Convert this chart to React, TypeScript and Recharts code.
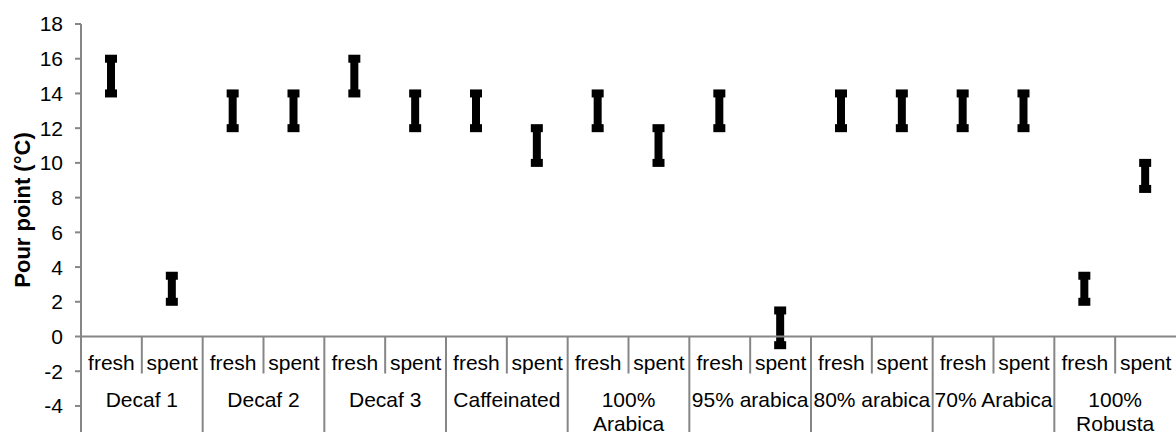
import React from 'react';
import { ComposedChart, Bar, XAxis, YAxis, ReferenceLine } from 'recharts';

const groups = [
  'Decaf 1',
  'Decaf 2',
  'Decaf 3',
  'Caffeinated',
  '100% Arabica',
  '95% arabica',
  '80% arabica',
  '70% Arabica',
  '100% Robusta',
];
const conditions = ['fresh', 'spent'];

// low / high pour point per group and condition (fresh, spent, fresh, spent, ...)
const lowValues = [14, 2, 12, 12, 14, 12, 12, 10, 12, 10, 12, -0.5, 12, 12, 12, 12, 2, 8.5];
const highValues = [16, 3.5, 14, 14, 16, 14, 14, 12, 14, 12, 14, 1.5, 14, 14, 14, 14, 3.5, 10];

const yTicks = [-4, -2, 0, 2, 4, 6, 8, 10, 12, 14, 16, 18];
const yDomain: [number, number] = [-5.5, 18];

const FONT = '"Liberation Sans", Arial, sans-serif';
const FONT_SIZE = 21;
const AXIS_GREY = '#868686';

const data = groups.flatMap((g, gi) =>
  conditions.map((c, ci) => {
    const i = gi * conditions.length + ci;
    return { cat: `${g}|${c}`, group: g, cond: c, range: [lowValues[i], highValues[i]] };
  })
);

let measureCtx: CanvasRenderingContext2D | null = null;
const textWidth = (s: string) => {
  if (!measureCtx) measureCtx = document.createElement('canvas').getContext('2d');
  if (!measureCtx) return s.length * FONT_SIZE * 0.55;
  measureCtx.font = `${FONT_SIZE}px ${FONT}`;
  return measureCtx.measureText(s).width;
};

// word wrap like the spreadsheet does for long group names
const wrap = (label: string, maxWidth: number) => {
  const lines: string[] = [];
  let cur = '';
  label.split(' ').forEach((w) => {
    const next = cur ? `${cur} ${w}` : w;
    if (cur && textWidth(next) > maxWidth) {
      lines.push(cur);
      cur = w;
    } else {
      cur = next;
    }
  });
  if (cur) lines.push(cur);
  return lines;
};

const HighLowMark = (props: any) => {
  const { x, y, width, height } = props;
  const top = height < 0 ? y + height : y;
  const h = Math.abs(height);
  const cx = x + width / 2;
  return (
    <g fill="#000">
      <rect x={cx - 4} y={top} width={8} height={h} />
      <rect x={x} y={top - 4} width={width} height={8} />
      <rect x={x} y={top + h - 4} width={width} height={8} />
    </g>
  );
};

// draws the two-level category axis hanging under the zero line
const CategoryAxis = (props: any) => {
  const { viewBox } = props;
  if (!viewBox) return null;
  const { x, y, width } = viewBox;
  const slot = width / data.length;
  const groupWidth = slot * conditions.length;
  return (
    <g>
      {data.map((d, i) => (
        <text
          key={d.cat}
          x={x + slot * i + slot / 2}
          y={y + 33}
          textAnchor="middle"
          fontSize={FONT_SIZE}
          fontFamily={FONT}
          fill="#000"
        >
          {d.cond}
        </text>
      ))}
      {groups.map((g, gi) => {
        const gx = x + gi * groupWidth;
        const lines = wrap(g, groupWidth - 2);
        return (
          <g key={g}>
            <line x1={gx + slot} x2={gx + slot} y1={y} y2={y + 37} stroke={AXIS_GREY} strokeWidth={2} />
            {gi > 0 && (
              <line x1={gx} x2={gx} y1={y} y2={y + 200} stroke={AXIS_GREY} strokeWidth={2} />
            )}
            <text
              x={gx + groupWidth / 2}
              y={y + 70}
              textAnchor="middle"
              fontSize={FONT_SIZE}
              fontFamily={FONT}
              fill="#000"
            >
              {lines.map((l, li) => (
                <tspan key={li} x={gx + groupWidth / 2} dy={li === 0 ? 0 : 24}>
                  {l}
                </tspan>
              ))}
            </text>
          </g>
        );
      })}
    </g>
  );
};

const YLabel = (props: any) => {
  const { viewBox } = props;
  const cx = 22;
  const cy = viewBox.y + viewBox.height / 2 - 18;
  return (
    <text
      x={cx}
      y={cy}
      transform={`rotate(-90, ${cx}, ${cy})`}
      textAnchor="middle"
      dominantBaseline="central"
      fontSize={22}
      fontWeight="bold"
      fontFamily={FONT}
      fill="#000"
    >
      Pour point (°C)
    </text>
  );
};

export default function App() {
  return (
    <div style={{ position: 'absolute', left: 0, top: 0, background: '#fff' }}>
      <ComposedChart
        width={1176}
        height={432}
        data={data}
        margin={{ top: 24, right: 0, bottom: 0, left: 0 }}
        style={{ fontFamily: FONT }}
      >
        <XAxis dataKey="cat" type="category" hide />
        <YAxis
          type="number"
          domain={yDomain}
          ticks={yTicks}
          interval={0}
          allowDataOverflow
          width={81}
          tickSize={6}
          tickMargin={12}
          axisLine={{ stroke: AXIS_GREY, strokeWidth: 2 }}
          tickLine={{ stroke: AXIS_GREY, strokeWidth: 2 }}
          tick={{ fontSize: FONT_SIZE, fill: '#000', fontFamily: FONT }}
          label={<YLabel />}
        />
        <ReferenceLine y={0} stroke={AXIS_GREY} strokeWidth={2} label={<CategoryAxis />} />
        <Bar dataKey="range" barSize={12} shape={<HighLowMark />} isAnimationActive={false} />
      </ComposedChart>
    </div>
  );
}
